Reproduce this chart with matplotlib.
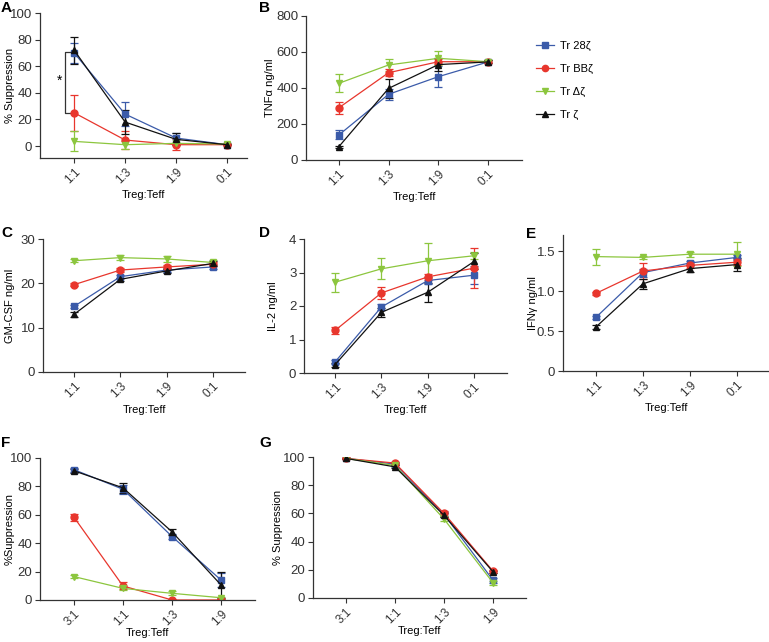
import numpy as np
import matplotlib
matplotlib.use('Agg')
import matplotlib.pyplot as plt
from matplotlib.lines import Line2D

plt.rcParams['font.family'] = ['Liberation Sans', 'DejaVu Sans']
plt.rcParams['axes.linewidth'] = 0.9
plt.rcParams['axes.edgecolor'] = '#333333'
plt.rcParams['xtick.color'] = '#333333'
plt.rcParams['ytick.color'] = '#333333'

W, H = 769, 642

# series
series_names = ['Tr 28ζ', 'Tr BBζ', 'Tr Δζ', 'Tr ζ']
series_colors = ['#3b5ba9', '#e8362d', '#8cc63e', '#111111']
series_markers = ['s', 'o', 'v', '^']

ratios_4 = ['1:1', '1:3', '1:9', '0:1']
ratios_fg = ['3:1', '1:1', '1:3', '1:9']

# panel A: % suppression (blue, red, green, black)
a_mean = [[70, 24, 6, 1], [25, 4.5, 1, 1], [3.5, 1, 2, 1.5], [72, 18, 5, 1]]
a_err = [[7.5, 9, 4, 0.5], [13.5, 6.5, 4, 0.5], [7.5, 3, 1, 0.5], [10, 9, 4.5, 0.5]]

# panel B: TNFa ng/ml
b_mean = [[139, 365, 463, 545], [290, 485, 546, 546], [426, 528, 565, 546], [74, 398, 530, 545]]
b_err = [[25, 30, 58, 8], [32, 20, 15, 8], [50, 35, 38, 8], [5, 52, 35, 8]]

# panel C: GM-CSF ng/ml
c_mean = [[14.8, 21.5, 23.0, 23.7], [19.7, 23.0, 23.7, 24.3], [25.1, 25.8, 25.5, 24.7], [13.0, 20.9, 22.8, 24.5]]
c_err = [[0.4, 0.4, 0.4, 0.5], [0.4, 0.4, 0.5, 0.5], [0.4, 0.5, 0.7, 0.6], [0.5, 0.4, 0.4, 0.6]]

# panel D: IL-2 ng/ml
d_mean = [[0.33, 1.97, 2.76, 2.92], [1.27, 2.39, 2.87, 3.13], [2.71, 3.11, 3.35, 3.5], [0.25, 1.81, 2.41, 3.33]]
d_err = [[0.06, 0.08, 0.1, 0.27], [0.1, 0.19, 0.08, 0.6], [0.28, 0.31, 0.52, 0.1], [0.06, 0.13, 0.29, 0.24]]

# panel E: IFNy ng/ml
e_mean = [[0.67, 1.23, 1.35, 1.42], [0.97, 1.25, 1.32, 1.36], [1.43, 1.42, 1.46, 1.46], [0.55, 1.09, 1.28, 1.33]]
e_err = [[0.02, 0.05, 0.03, 0.03], [0.02, 0.1, 0.03, 0.04], [0.1, 0.02, 0.03, 0.15], [0.02, 0.06, 0.04, 0.08]]

# panel F: %Suppression
f_mean = [[91.8, 78, 44.7, 14], [58.4, 9.9, 0, 0], [16.5, 8.2, 4.7, 1.6], [91, 79, 48, 10.5]]
f_err = [[1.5, 3, 2, 5], [2.5, 2.5, 0.5, 0.5], [0.8, 1, 1.5, 0.8], [1.5, 3.5, 2, 9]]

# panel G: % Suppression
g_mean = [[99, 95, 59.3, 12.5], [99, 95.7, 60, 19], [99, 94, 56, 10.7], [99, 93, 58.6, 18.5]]
g_err = [[0.5, 1, 1.5, 2], [0.5, 1, 1.5, 1], [0.5, 1, 1.5, 1.5], [0.5, 1, 1.5, 1]]


def px_axes(fig, left, top, right, bottom):
    return fig.add_axes([left / W, 1 - bottom / H, (right - left) / W, (bottom - top) / H])


def draw_panel(ax, means, errs, xlabels, ylabel, ylim, yticks, yticklabels, xlim,
               letter, letter_xy, ylab_off, xlab_off):
    x = np.arange(len(xlabels))
    for m, e, col, mk in zip(means, errs, series_colors, series_markers):
        ms = 5 if mk == 'o' else 4.5
        ax.errorbar(x, m, yerr=e, color=col, marker=mk, markersize=ms, lw=0.9,
                    elinewidth=0.9, capsize=2.8, capthick=0.9)
    ax.set_xlim(*xlim)
    ax.set_ylim(*ylim)
    ax.set_yticks(yticks)
    ax.set_yticklabels(yticklabels, fontsize=9.5)
    ax.set_xticks(x)
    ax.set_xticklabels(xlabels, fontsize=8.5, rotation=45, ha='right', rotation_mode='anchor')
    ax.tick_params(length=3.5, width=0.8, pad=2)
    ax.spines['top'].set_visible(False)
    ax.spines['right'].set_visible(False)
    pos = ax.get_position()
    ax.set_ylabel(ylabel, fontsize=8, va='center')
    ax.yaxis.set_label_coords(-ylab_off / (pos.width * W), 0.5)
    # x label centre placed a fixed distance below the axis
    ax.set_xlabel('Treg:Teff', fontsize=8, va='center')
    ax.xaxis.set_label_coords(0.5, -xlab_off / (pos.height * H))
    fig.text(letter_xy[0] / W, 1 - letter_xy[1] / H, letter, fontsize=11,
             fontweight='bold', ha='left', va='center')


fig = plt.figure(figsize=(W / 100, H / 100), dpi=100)

axA = px_axes(fig, 40, 13, 247, 158)
draw_panel(axA, a_mean, a_err, ratios_4, '% Suppression', (-9, 100), [0, 20, 40, 60, 80, 100],
           ['0', '20', '40', '60', '80', '100'], (-0.67, 3.39), 'A', (1, 8), 30, 37)
# significance bracket
axA.plot([-0.04, -0.18, -0.18, -0.04], [71, 71, 25, 25], color='#333333', lw=0.9, clip_on=False)
axA.text(-0.28, 49, '*', fontsize=10, ha='center', va='center')

axB = px_axes(fig, 306, 16, 522, 160)
draw_panel(axB, b_mean, b_err, ratios_4, 'TNFα ng/ml', (0, 800), [0, 200, 400, 600, 800],
           ['0', '200', '400', '600', '800'], (-0.66, 3.68), 'B', (259, 8), 36, 37)

axC = px_axes(fig, 43, 239, 245, 372)
draw_panel(axC, c_mean, c_err, ratios_4, 'GM-CSF ng/ml', (0, 30), [0, 10, 20, 30],
           ['0', '10', '20', '30'], (-0.67, 3.69), 'C', (1, 233), 33, 38)

axD = px_axes(fig, 304, 239, 507, 373)
draw_panel(axD, d_mean, d_err, ratios_4, 'IL-2 ng/ml', (0, 4), [0, 1, 2, 3, 4],
           ['0', '1', '2', '3', '4'], (-0.67, 3.71), 'D', (259, 233), 31, 37)

axE = px_axes(fig, 563, 235, 769, 371)
draw_panel(axE, e_mean, e_err, ratios_4, 'IFNγ ng/ml', (0, 1.7), [0, 0.5, 1.0, 1.5],
           ['0', '0.5', '1.0', '1.5'], (-0.70, 3.68), 'E', (526, 234), 30, 37)

axF = px_axes(fig, 40, 458, 255, 600)
draw_panel(axF, f_mean, f_err, ratios_fg, '%Suppression', (0, 100), [0, 20, 40, 60, 80, 100],
           ['0', '20', '40', '60', '80', '100'], (-0.69, 3.69), 'F', (1, 443), 30, 33)

axG = px_axes(fig, 313, 457, 526, 598)
draw_panel(axG, g_mean, g_err, ratios_fg, '% Suppression', (0, 100), [0, 20, 40, 60, 80, 100],
           ['0', '20', '40', '60', '80', '100'], (-0.67, 3.67), 'G', (259, 443), 35, 33)

handles = [Line2D([0], [0], color=c, marker=m, markersize=4.5, lw=0.9)
           for c, m in zip(series_colors, series_markers)]
fig.legend(handles, series_names, loc='upper left', bbox_to_anchor=(536 / W, 1 - 41 / H),
           frameon=False, fontsize=8, handlelength=1.6, handletextpad=0.6,
           labelspacing=1.15, borderpad=0, borderaxespad=0)

fig.savefig('out.png', dpi=100)
